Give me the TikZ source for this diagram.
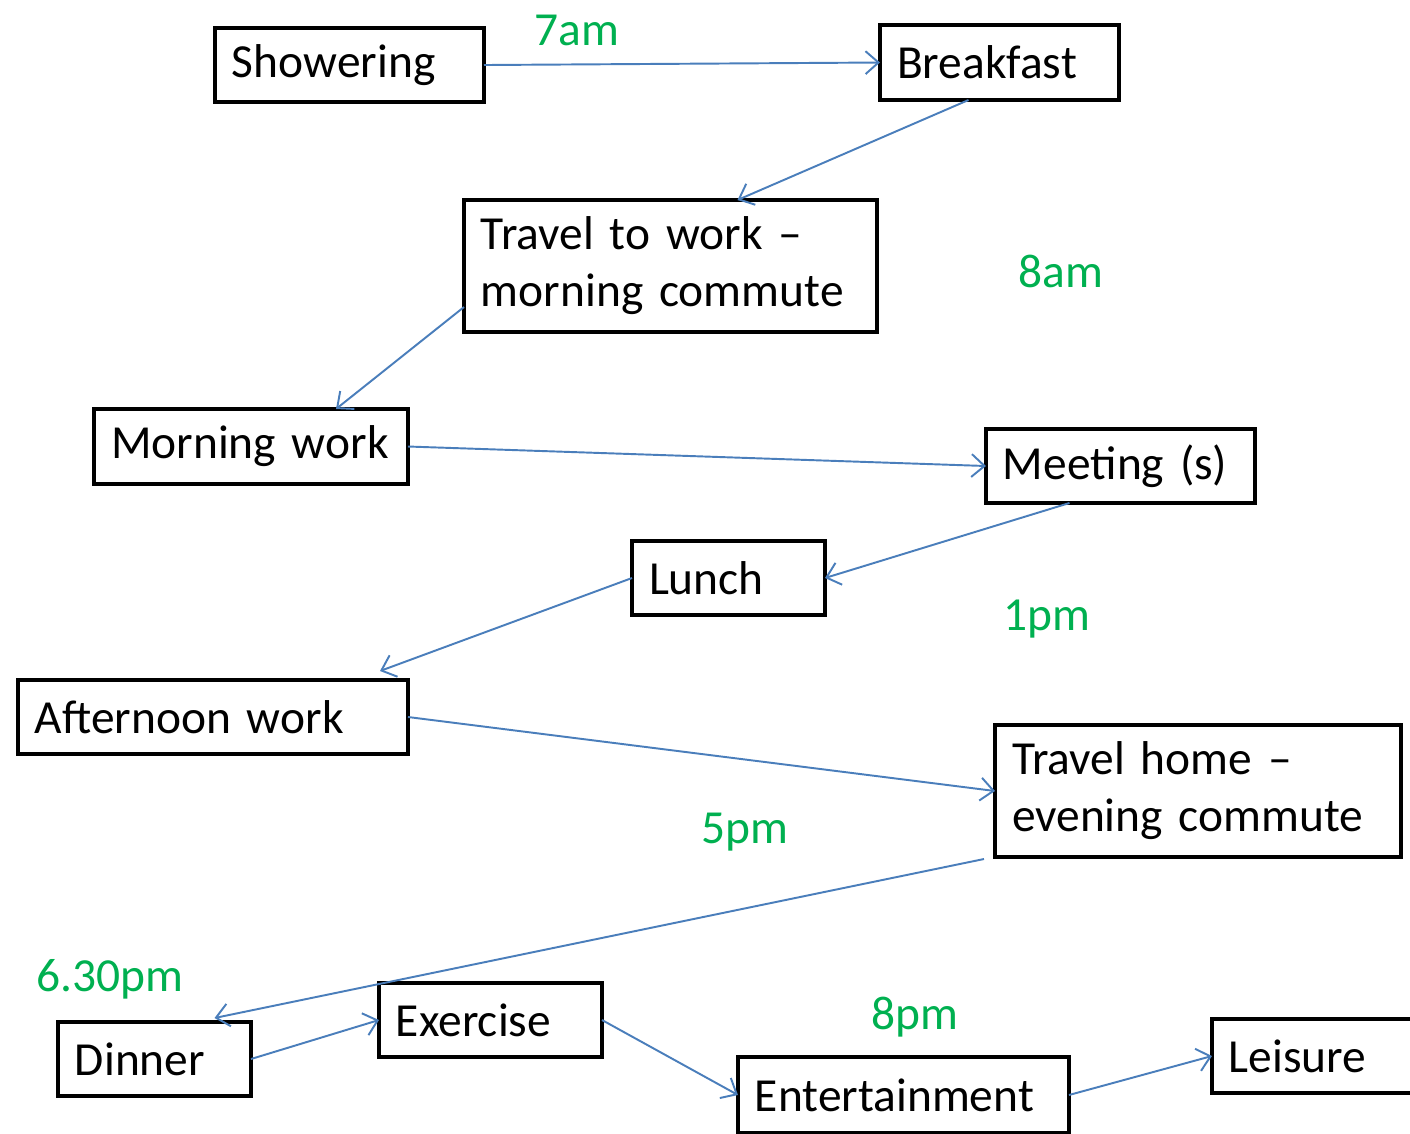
\documentclass[tikz,border=0pt]{standalone}
\usepackage{fontspec}
\setmainfont{Carlito}
\usetikzlibrary{arrows.meta,calc}

\definecolor{flowblue}{RGB}{74,126,187}
\definecolor{timegreen}{RGB}{0,176,80}

\tikzset{
	box/.style={draw, line width=1.25pt, anchor=north west, outer sep=0pt, inner xsep=0.17cm, inner ysep=0pt,
		align=left, font=\fontsize{13.5}{16.2}\selectfont},
	flow/.style={->, draw=flowblue, line width=0.55pt},
	time/.style={text=timegreen, font=\fontsize{13.5}{16.2}\selectfont}
}

\begin{document}
\begin{tikzpicture}[>={Straight Barb[length=3.7pt,width=6.5pt]}]
		\useasboundingbox (0,0) rectangle (14.10,-11.33);
		%\draw [help lines] (0,0) grid (14,-11);

		% morning
		\node [box, text width=2.35cm, minimum height=0.74cm] (shower) at (2.15,-0.28) {Showering};
		\node [box, text width=2.05cm, minimum height=0.75cm] (breakfast) at (8.80,-0.25) {Breakfast};
		\node [box, text width=3.79cm, minimum height=1.32cm] (commute) at (4.64,-2.00) {Travel to work –\\morning commute};
		\node [box, text width=2.80cm, minimum height=0.75cm] (morning) at (0.94,-4.09) {Morning work};
		\node [box, text width=2.35cm, minimum height=0.74cm] (meeting) at (9.86,-4.29) {Meeting (s)};

		% afternoon
		\node [box, text width=1.59cm, minimum height=0.74cm] (lunch) at (6.32,-5.41) {Lunch};
		\node [box, text width=3.56cm, minimum height=0.74cm] (afternoon) at (0.18,-6.80) {Afternoon work};
		\node [box, text width=3.72cm, minimum height=1.32cm] (home) at (9.95,-7.25) {Travel home –\\evening commute};

		% evening
		\node [box, text width=1.59cm, minimum height=0.74cm] (dinner) at (0.58,-10.22) {Dinner};
		\node [box, text width=1.89cm, minimum height=0.74cm] (exercise) at (3.79,-9.83) {Exercise};
		\node [box, text width=2.97cm, minimum height=0.76cm] (fun) at (7.38,-10.57) {Entertainment};
		\node [box, text width=2.06cm, minimum height=0.74cm] (leisure) at (12.12,-10.19) {Leisure};

		% times
		\node [time] (t7am) at (5.77,-0.30) {7am};
		\node [time] (t8am) at (10.61,-2.71) {8am};
		\node [time] (t1pm) at (10.47,-6.19) {1pm};
		\node [time] (t5pm) at (7.45,-8.32) {5pm};
		\node [time] (t630pm) at (1.10,-9.79) {6.30pm};
		\node [time] (t8pm) at (9.15,-10.17) {8pm};

		\draw [flow] (shower.east) -- (breakfast.west);
		\draw [flow] ($(breakfast.south)+(-0.31,0)$) -- ($(commute.north)+(0.67,0)$);
		\draw [flow] ($(commute.west)+(0,-0.41)$) -- ($(morning.north)+(0.85,0)$);
		\draw [flow] (morning.east) -- (meeting.west);
		\draw [flow] ($(meeting.south)+(-0.51,0)$) -- (lunch.east);
		\draw [flow] (lunch.west) -- ($(afternoon.north)+(1.67,0.09)$);
		\draw [flow] (afternoon.east) -- (home.west);
		\draw [flow] ($(home.south west)+(-0.11,-0.02)$) -- ($(dinner.north)+(0.60,0.04)$);
		\draw [flow] (dinner.east) -- (exercise.west);
		\draw [flow] (exercise.east) -- (fun.west);
		\draw [flow] (fun.east) -- (leisure.west);
	\end{tikzpicture}
\end{document}
